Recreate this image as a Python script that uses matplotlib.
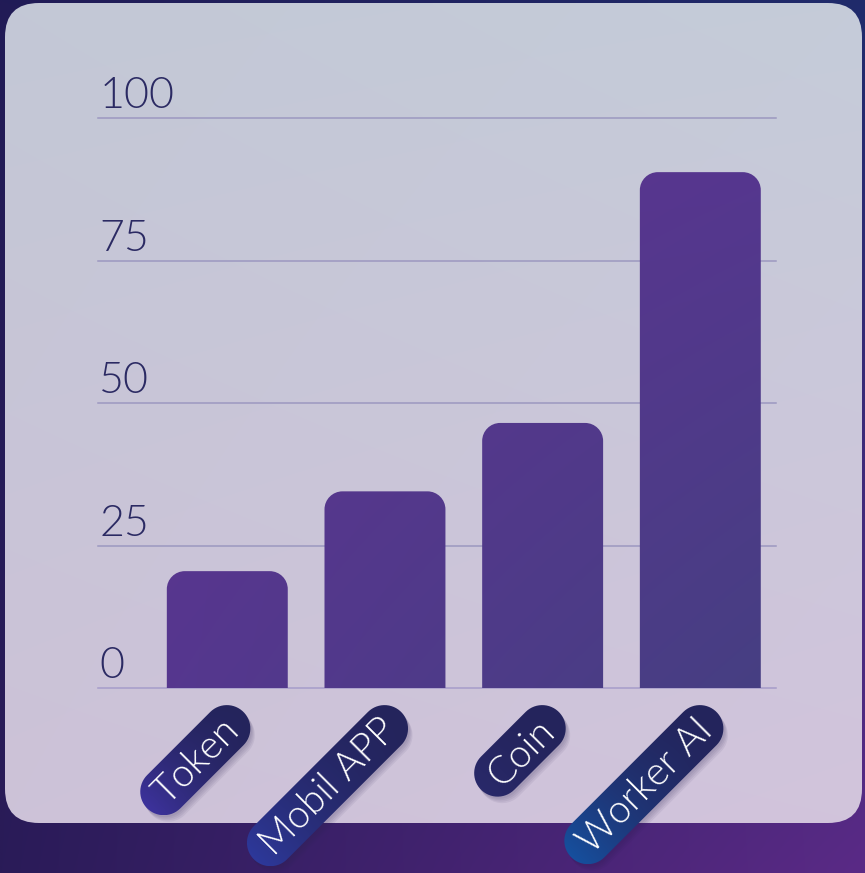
import numpy as np
import matplotlib
matplotlib.use("Agg")
import matplotlib.pyplot as plt
from matplotlib.patches import FancyBboxPatch, PathPatch
from matplotlib.path import Path
from matplotlib.colors import to_rgb

categories = ["Token", "Mobil APP", "Coin", "Worker AI"]
values = [20.5, 34.5, 46.5, 90.5]
yticks = [0, 25, 50, 75, 100]
pill_low = ["#4034a4", "#2e3a9f", "#2a2a6c", "#1553a3"]
pill_high = "#24245c"

W, H = 865, 873
fig = plt.figure(figsize=(W / 100, H / 100), dpi=100)


def grad4(tl, tr, bl, br, w=200, h=200):
    tl, tr, bl, br = [np.array(to_rgb(c)) for c in (tl, tr, bl, br)]
    u = np.linspace(0, 1, w)[None, :, None]
    v = np.linspace(0, 1, h)[:, None, None]
    top = tl * (1 - u) + tr * u
    bot = bl * (1 - u) + br * u
    return top * (1 - v) + bot * v


def stadium(x0, y0, width, height, mutation_size):
    # pill shape around the text box, sizes in pixels
    ext, th = 16.0, 47.0
    r = th / 2
    cy = y0 + height / 2 + 0.05 * mutation_size
    xl, xr = x0 - ext + r, x0 + width + ext - r
    a = np.linspace(-np.pi / 2, np.pi / 2, 30)
    right = np.column_stack([xr + r * np.cos(a), cy + r * np.sin(a)])
    left = np.column_stack([xl - r * np.cos(a), cy - r * np.sin(a)])
    return Path(np.vstack([right, left, right[:1]]), closed=True)


# background + card, in pixel coords (y down)
bg = fig.add_axes([0, 0, 1, 1], zorder=-5)
bg.axis("off")
bg.imshow(grad4("#211b56", "#1f2b6b", "#2a1b58", "#5a2a86"),
          extent=(0, W, H, 0), aspect="auto", interpolation="bilinear")
card = FancyBboxPatch((5, 3), 857, 820, boxstyle="round,pad=0,rounding_size=34",
                      fc="none", ec="none")
bg.add_patch(card)
im = bg.imshow(grad4("#c3c8d6", "#c5ccd9", "#cdc2d8", "#d2c4dc"),
               extent=(5, 862, 823, 3), aspect="auto", interpolation="bilinear")
im.set_clip_path(card)

# main chart
ax = fig.add_axes([98 / W, 1 - 688 / H, 678 / W, 570 / H])
ax.patch.set_alpha(0)
x = np.arange(len(categories))
bars = ax.bar(x, values, width=0.767, color="none", zorder=3)
ax.set_xlim(-0.82, 3.48)
ax.set_ylim(0, 100)
for s in ax.spines.values():
    s.set_visible(False)
ax.set_xticks([])
ax.set_yticks([])

for t in yticks:
    ax.axhline(t, color="#9c98c0" if t else "#a69cca", lw=1.1, zorder=1, clip_on=False)
    ax.annotate(str(t), xy=(0, t), xycoords=("axes fraction", "data"),
                xytext=(1, 7), textcoords="offset points", ha="left", va="baseline",
                fontsize=31, color="#2b2a63", family="Lato", fontweight=300)

# rounded top bars with gradient fill
pxx = 678 / (ax.get_xlim()[1] - ax.get_xlim()[0])
pxy = 570 / 100
rx, ry = 18 / pxx, 18 / pxy
k = 0.5523
bar_grad = grad4("#61328f", "#573690", "#573690", "#463f82")
for b in bars:
    x0, w, h = b.get_x(), b.get_width(), b.get_height()
    x1 = x0 + w
    verts = [(x0, 0), (x0, h - ry), (x0, h - ry + k * ry), (x0 + rx - k * rx, h),
             (x0 + rx, h), (x1 - rx, h), (x1 - rx + k * rx, h), (x1, h - ry + k * ry),
             (x1, h - ry), (x1, 0), (x0, 0)]
    codes = [Path.MOVETO, Path.LINETO, Path.CURVE4, Path.CURVE4, Path.CURVE4,
             Path.LINETO, Path.CURVE4, Path.CURVE4, Path.CURVE4, Path.LINETO, Path.CLOSEPOLY]
    pp = PathPatch(Path(verts, codes), fc="none", ec="none", zorder=3)
    ax.add_patch(pp)
    bi = ax.imshow(bar_grad, extent=(-0.82, 3.48, 0, 100), aspect="auto",
                   interpolation="bilinear", zorder=3)
    bi.set_clip_path(pp)
ax.set_xlim(-0.82, 3.48)
ax.set_ylim(0, 100)

# category labels in pills
pills = []
for i, c in enumerate(categories):
    t = ax.annotate(c, xy=(x[i], 0), xytext=(4.5, -26.4), textcoords="offset points",
                    rotation=45, rotation_mode="anchor", ha="right", va="center",
                    fontsize=28, color="white", family="Lato", fontweight=300,
                    annotation_clip=False, zorder=6,
                    bbox=dict(boxstyle=stadium, fc="none", ec="none"))
    pills.append(t)

fig.canvas.draw()

for i, t in enumerate(pills):
    bp = t.get_bbox_patch()
    p = bp.get_path().transformed(bp.get_transform())
    v = p.vertices.copy()
    v[:, 1] = H - v[:, 1]
    for j in range(4):
        sh = PathPatch(Path(v + [1.5 + j, 2 + 1.5 * j], p.codes), fc="#2a2050",
                       ec="none", alpha=0.07, zorder=1)
        bg.add_patch(sh)
    clip = PathPatch(Path(v, p.codes), fc="none", ec="none")
    bg.add_patch(clip)
    xa, xb = v[:, 0].min(), v[:, 0].max()
    ya, yb = v[:, 1].min(), v[:, 1].max()
    g = grad4(pill_high, pill_high, pill_low[i], pill_high, 60, 60)
    pi = bg.imshow(g, extent=(xa, xb, yb, ya), aspect="auto", interpolation="bilinear",
                   zorder=2)
    pi.set_clip_path(clip)
    bp.set_visible(False)

bg.set_xlim(0, W)
bg.set_ylim(H, 0)

fig.savefig("out.png", dpi=100)
